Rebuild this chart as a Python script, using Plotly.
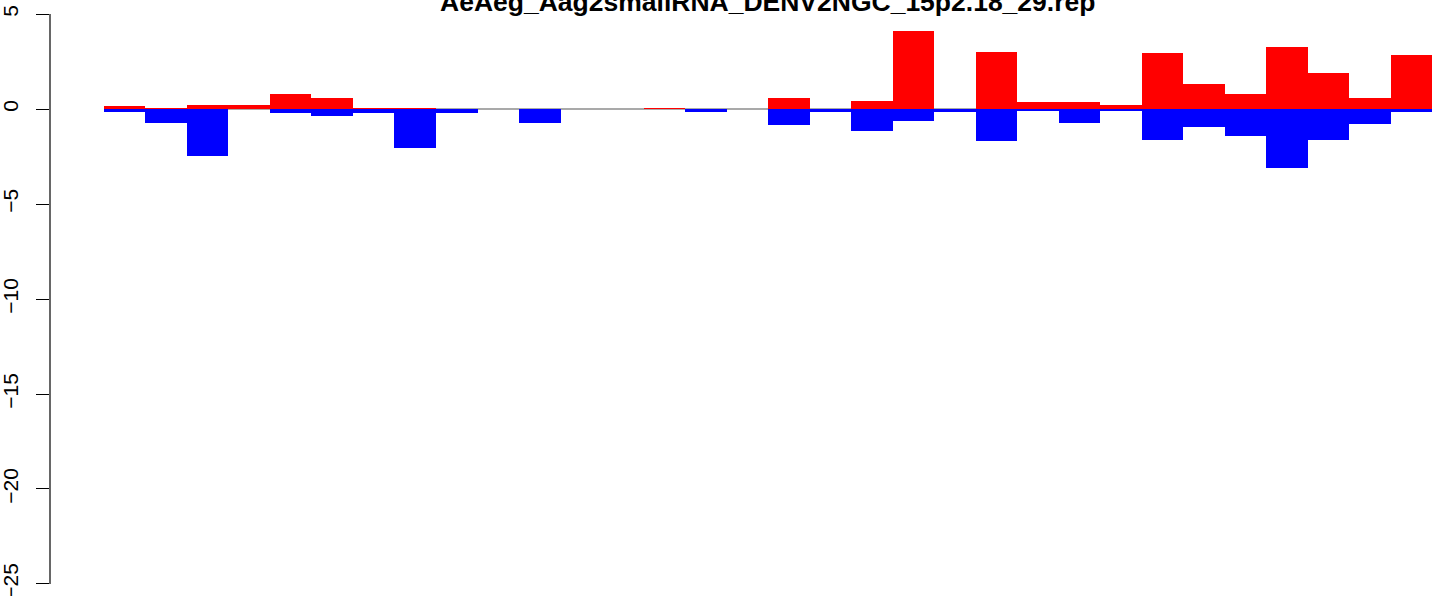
import plotly.graph_objects as go

title_text = "AeAeg_Aag2smallRNA_DENV2NGC_15p2.18_29.rep"

categories = ["1", "2", "3", "4", "5", "6", "7", "8", "9", "10", "11", "12", "13", "14", "15", "16",
              "17", "18", "19", "20", "21", "22", "23", "24", "25", "26", "27", "28", "29", "30", "31", "32"]

red_values = [0.16, 0.05, 0.21, 0.21, 0.79, 0.58, 0.05, 0.05, 0.0, 0.0, 0.0, 0.0, 0.0, 0.05, 0.0, 0.0,
              0.58, 0.0, 0.42, 4.10, 0.0, 3.00, 0.37, 0.37, 0.21, 2.95, 1.32, 0.79, 3.26, 1.89, 0.58, 2.84]

blue_values = [-0.14, -0.72, -2.46, 0.0, -0.19, -0.35, -0.19, -2.04, -0.19, 0.0, -0.72, 0.0, 0.0, 0.0, -0.14, 0.0,
               -0.82, -0.14, -1.14, -0.61, -0.14, -1.67, -0.09, -0.72, -0.09, -1.61, -0.93, -1.40, -3.09, -1.61, -0.77, -0.14]

y_ticks = [5, 0, -5, -10, -15, -20, -25]

FONT = "Liberation Sans, Arial, Helvetica, sans-serif"

fig = go.Figure()
fig.add_trace(go.Bar(x=categories, y=red_values, marker=dict(color="#FF0000", line=dict(width=0)),
                     showlegend=False, hoverinfo="skip"))
fig.add_trace(go.Bar(x=categories, y=blue_values, marker=dict(color="#0000FF", line=dict(width=0)),
                     showlegend=False, hoverinfo="skip"))

# zero reference line under the bars
fig.add_shape(type="line", xref="x", yref="y", x0=-0.5, x1=len(categories) - 0.5, y0=0, y1=0,
              line=dict(color="#8c8c8c", width=1.5), layer="below")
# R-style axis line spanning only the tick range
fig.add_shape(type="line", xref="paper", yref="y", x0=0, x1=0, y0=min(y_ticks), y1=max(y_ticks),
              line=dict(color="black", width=1.2), layer="above")

fig.add_annotation(text="<b>" + title_text + "</b>", xref="paper", yref="paper", x=0.5188, y=0.997,
                   xanchor="center", yanchor="middle", showarrow=False,
                   font=dict(family=FONT, size=26.5, color="black"))

fig.update_layout(
    width=1433, height=596,
    margin=dict(l=50, r=0, t=0, b=0),
    paper_bgcolor="white", plot_bgcolor="white",
    barmode="relative", bargap=0,
    font=dict(family=FONT, color="black"),
    xaxis=dict(type="category", range=[-1.801, 31.524], showticklabels=False, showgrid=False,
               zeroline=False, showline=False, ticks="", automargin=False),
    yaxis=dict(range=[-25.632, 5.737], tickvals=y_ticks, ticks="outside", ticklen=13, tickwidth=1.2,
               tickcolor="black", tickangle=-90, showgrid=False, zeroline=False, showline=False,
               ticklabelstandoff=10, ticklabeloverflow="allow",
               tickfont=dict(family=FONT, size=21, color="black"), automargin=False),
)

fig.write_html("out.html", config={"displayModeBar": False},
               post_script="document.body.style.margin='0px';document.body.style.padding='0px';"
                           "document.body.style.overflow='hidden';")
